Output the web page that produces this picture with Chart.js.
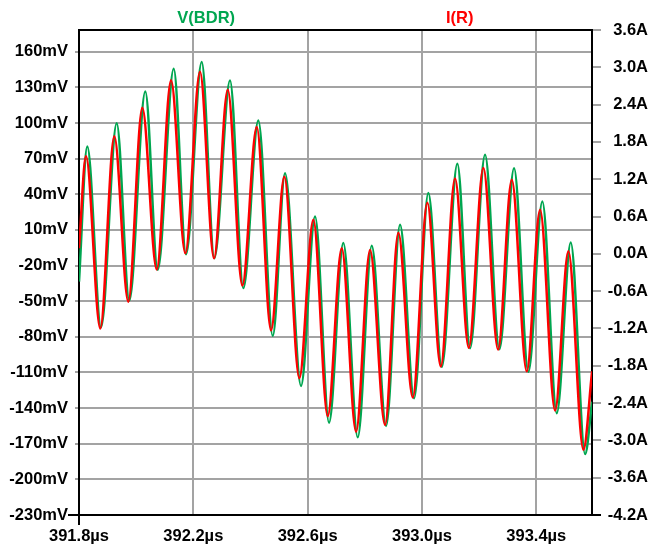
<!DOCTYPE html>
<html>
<head>
<meta charset="utf-8">
<script src="https://cdn.jsdelivr.net/npm/chart.js@4/dist/chart.umd.min.js"></script>
<style>
  html, body { margin: 0; padding: 0; background: #ffffff; }
  #wrap { width: 648px; height: 547px; position: relative; }
</style>
</head>
<body>
<div id="wrap"><canvas id="c"></canvas></div>
<script>
// ---- data (time in µs) ----
const seriesNames = ['V(BDR)', 'I(R)'];

const vTime = [391.8000, 391.8290, 391.8770, 391.9319, 391.9760, 392.0320, 392.0754, 392.1314, 392.1745, 392.2294,
  392.2735, 392.3284, 392.3750, 392.4275, 392.4779, 392.5209, 392.5769, 392.6259, 392.6749, 392.7249,
  392.7753, 392.8243, 392.8744, 392.9234, 392.9724, 393.0224, 393.0693, 393.1239, 393.1683, 393.2208,
  393.2709, 393.3223, 393.3723, 393.4213, 393.4717, 393.5207, 393.5708, 393.5953];
const vBDR = [-33.5, 80.2, -71.9, 99.9, -49.5, 126.6, -23.6, 145.7, -10.4, 151.3,
  -13.8, 135.8, -39.0, 102.1, -79.2, 57.8, -121.3, 21.3, -152.3, -1.1,
  -164.6, -3.4, -155.0, 14.3, -131.7, 41.0, -105.3, 65.7, -89.6, 73.2,
  -90.4, 62.0, -109.3, 33.9, -144.3, -0.6, -178.6, -134.6];

const iTime = [391.8000, 391.8245, 391.8745, 391.9235, 391.9725, 392.0215, 392.0719, 392.1220, 392.1720, 392.2234,
  392.2724, 392.3204, 392.3715, 392.4219, 392.4719, 392.5185, 392.5710, 392.6200, 392.6703, 392.7193,
  392.7694, 392.8184, 392.8709, 392.9174, 392.9678, 393.0189, 393.0658, 393.1158, 393.1638, 393.2149,
  393.2663, 393.3143, 393.3667, 393.4133, 393.4658, 393.5123, 393.5648, 393.5953];
const iR = [0.09, 1.57, -1.20, 1.89, -0.77, 2.35, -0.25, 2.79, 0.01, 2.93,
  -0.07, 2.64, -0.51, 2.04, -1.23, 1.24, -2.00, 0.55, -2.61, 0.09,
  -2.86, 0.06, -2.75, 0.34, -2.31, 0.82, -1.81, 1.21, -1.51, 1.38,
  -1.54, 1.19, -1.89, 0.71, -2.52, 0.04, -3.15, -1.89];

// ---- tick labels ----
const xTicks = [391.8, 392.2, 392.6, 393.0, 393.4];
const leftTicks = [-230, -200, -170, -140, -110, -80, -50, -20, 10, 40, 70, 100, 130, 160];
const rightTicks = [-4.2, -3.6, -3.0, -2.4, -1.8, -1.2, -0.6, 0.0, 0.6, 1.2, 1.8, 2.4, 3.0, 3.6];

const xRange = [391.8, 393.595];
const leftRange = [-230, 178.3];
const rightRange = [-4.2, 3.6];

const GREEN = '#00a650';
const RED = '#ff0000';
const GRID = '#a3a3a3';
const FONT = { family: '"Liberation Sans", Arial, sans-serif', size: 16.5, weight: 'bold' };

const toPts = (xs, ys) => xs.map((x, i) => ({ x: x, y: ys[i] }));

const framePlugin = {
  id: 'frame',
  beforeDatasetsDraw(chart) {
    const { ctx, chartArea: a } = chart;
    ctx.save();
    ctx.strokeStyle = '#000';
    ctx.lineWidth = 2;
    ctx.strokeRect(a.left, a.top, a.right - a.left, a.bottom - a.top);
    ctx.beginPath();
    ctx.moveTo(a.left, a.bottom); ctx.lineTo(a.left, a.bottom + 10);
    ctx.moveTo(a.left - 11, a.bottom); ctx.lineTo(a.left, a.bottom);
    ctx.moveTo(a.right, a.bottom); ctx.lineTo(a.right + 9, a.bottom);
    ctx.stroke();
    ctx.restore();
  }
};

const labelPlugin = {
  id: 'traceLabels',
  afterDraw(chart) {
    const { ctx, chartArea: a } = chart;
    const w = a.right - a.left;
    const pos = [0.248, 0.742];
    ctx.save();
    ctx.font = 'bold 16.5px "Liberation Sans", Arial, sans-serif';
    ctx.textAlign = 'center';
    ctx.textBaseline = 'middle';
    chart.data.datasets.forEach((ds) => {
      ctx.fillStyle = ds.borderColor;
      const k = seriesNames.indexOf(ds.label);
      ctx.fillText(ds.label, a.left + pos[k] * w, 18);
    });
    ctx.restore();
  }
};

new Chart(document.getElementById('c'), {
  type: 'line',
  data: {
    datasets: [
      {
        label: seriesNames[1],
        data: toPts(iTime, iR),
        yAxisID: 'yR',
        borderColor: RED,
        borderWidth: 2.5,
        pointRadius: 0,
        cubicInterpolationMode: 'monotone',
        fill: false,
        order: 0
      },
      {
        label: seriesNames[0],
        data: toPts(vTime, vBDR),
        yAxisID: 'yL',
        borderColor: GREEN,
        borderWidth: 2.5,
        pointRadius: 0,
        cubicInterpolationMode: 'monotone',
        fill: false,
        order: 1
      }
    ]
  },
  options: {
    responsive: true,
    maintainAspectRatio: false,
    animation: false,
    layout: { padding: { top: 30, left: 0, right: 0, bottom: 0 } },
    plugins: { legend: { display: false }, tooltip: { enabled: false } },
    scales: {
      x: {
        type: 'linear',
        position: 'bottom',
        min: xRange[0], max: xRange[1],
        afterBuildTicks: s => { s.ticks = xTicks.map(v => ({ value: v })); },
        afterFit: s => { s.height = 32; },
        grid: { color: GRID, lineWidth: 2, drawTicks: false },
        border: { color: '#000', width: 2 },
        ticks: {
          color: '#000', font: FONT, padding: 12, maxRotation: 0, autoSkip: false,
          callback: v => v.toFixed(1) + 'µs'
        }
      },
      yL: {
        type: 'linear',
        position: 'left',
        min: leftRange[0], max: leftRange[1],
        afterBuildTicks: s => { s.ticks = leftTicks.map(v => ({ value: v })); },
        afterFit: s => { s.width = 79; },
        grid: { color: GRID, lineWidth: 2, tickLength: 4, tickColor: GRID },
        border: { color: '#000', width: 2 },
        ticks: {
          color: '#000', font: FONT, padding: 7, autoSkip: false,
          callback: v => Math.round(v) + 'mV'
        }
      },
      yR: {
        type: 'linear',
        position: 'right',
        min: rightRange[0], max: rightRange[1],
        afterBuildTicks: s => { s.ticks = rightTicks.map(v => ({ value: v })); },
        afterFit: s => { s.width = 56; },
        grid: { drawOnChartArea: false, tickLength: 9, tickColor: GRID, lineWidth: 2 },
        border: { color: '#000', width: 2 },
        ticks: {
          color: '#000', font: FONT, padding: 3, autoSkip: false, crossAlign: 'far',
          callback: v => (Math.abs(v) < 1e-9 ? 0 : v).toFixed(1) + 'A'
        }
      }
    }
  },
  plugins: [framePlugin, labelPlugin]
});
</script>
</body>
</html>
